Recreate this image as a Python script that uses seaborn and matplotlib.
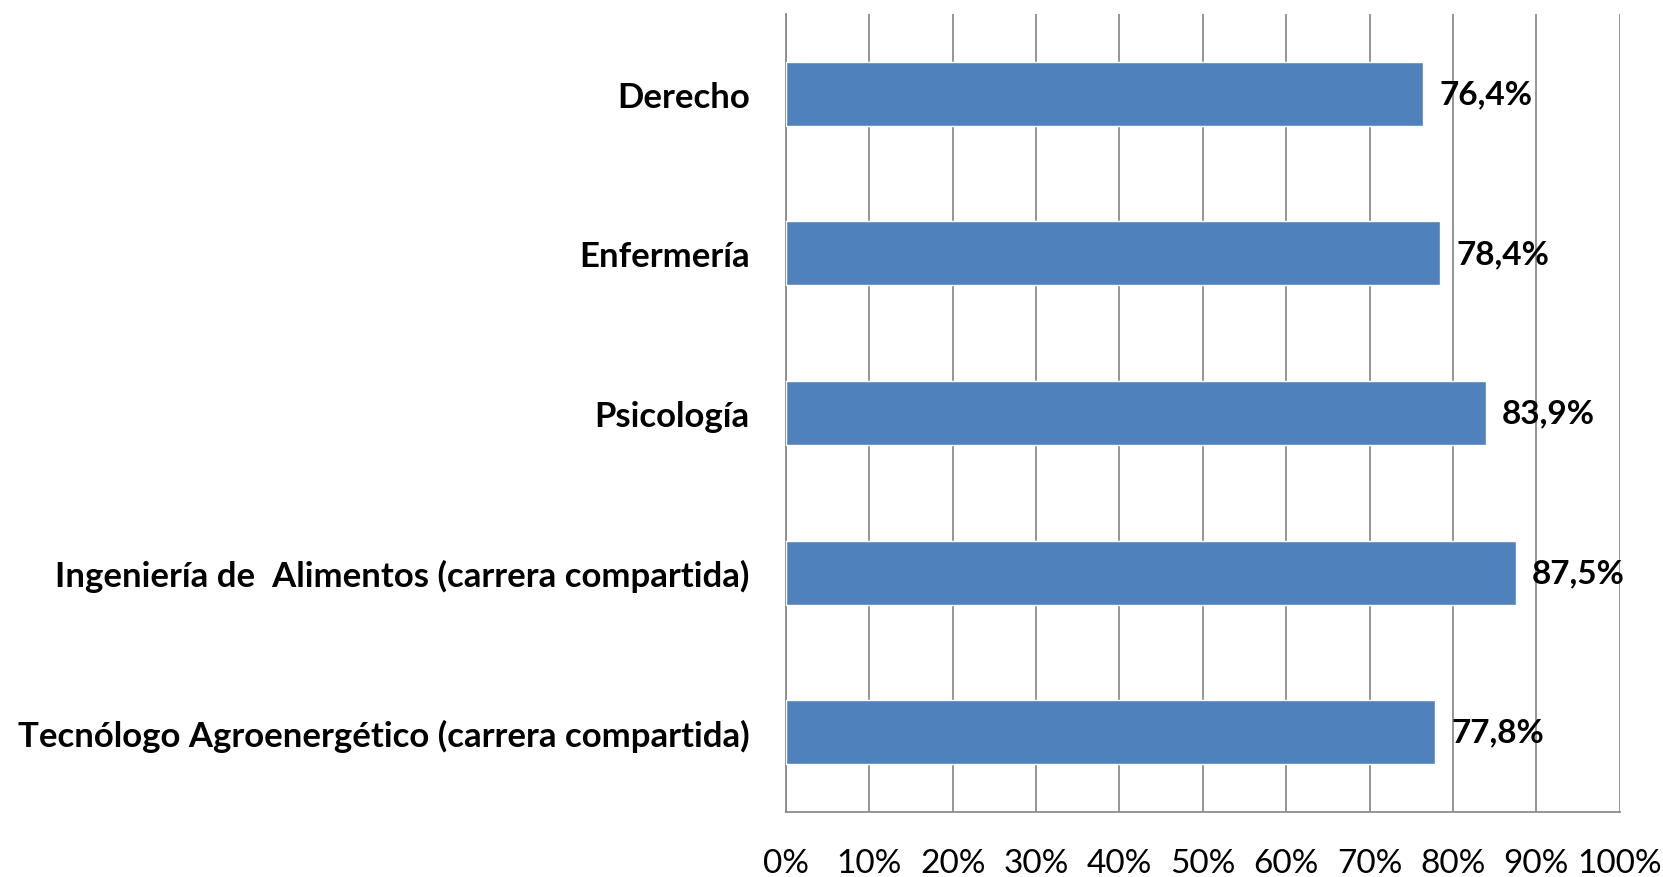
import numpy as np
import pandas as pd
import matplotlib
matplotlib.use("Agg")
import matplotlib.pyplot as plt
import seaborn as sns

carreras = ["Derecho", "Enfermería", "Psicología",
            "Ingeniería de  Alimentos (carrera compartida)",
            "Tecnólogo Agroenergético (carrera compartida)"]
porcentajes = [76.4, 78.4, 83.9, 87.5, 77.8]
xticks = [0, 10, 20, 30, 40, 50, 60, 70, 80, 90, 100]

df = pd.DataFrame({"carrera": carreras, "pct": porcentajes})

sns.set_style("white")
plt.rcParams['font.family'] = ['Lato', 'DejaVu Sans']
plt.rcParams['text.color'] = 'black'
plt.rcParams['xtick.color'] = 'black'
plt.rcParams['ytick.color'] = 'black'

fig = plt.figure(figsize=(16.63, 8.78), dpi=100)
ax = fig.add_axes([0.4726, 0.074, 0.5014, 0.909])

sns.barplot(data=df, x="pct", y="carrera", orient="h", color="#4F81BD",
            saturation=1, width=0.4, ax=ax, zorder=3)

# etiquetas de valores
for i, v in enumerate(porcentajes):
    ax.text(v + 2, i, f"{v:.1f}%".replace(".", ","), va="center", ha="left",
            fontsize=24, fontweight="bold", color="black")

ax.set_xlim(0, 100)
ax.set_ylim(len(carreras) - 0.5, -0.5)
ax.set_xticks(xticks)
ax.set_xticklabels([f"{t}%" for t in xticks], fontsize=24)
ax.set_yticks(range(len(carreras)))
ax.set_yticklabels(carreras, fontsize=25, fontweight="bold")
ax.set_yticks(np.arange(-0.5, len(carreras), 1), minor=True)
ax.tick_params(axis="y", which="major", length=0, pad=26)
ax.tick_params(axis="y", which="minor", length=8, color="#8c8c8c", width=1.3)
ax.tick_params(axis="x", length=8, color="#8c8c8c", width=1.3, pad=18)
ax.set_xlabel("")
ax.set_ylabel("")

ax.grid(axis="x", color="#8c8c8c", linewidth=1.3, zorder=0)
ax.set_axisbelow(True)
for s in ["top", "right"]:
    ax.spines[s].set_visible(False)
for s in ["left", "bottom"]:
    ax.spines[s].set_color("#8c8c8c")
    ax.spines[s].set_linewidth(1.3)

plt.savefig("out.png", dpi=100)
